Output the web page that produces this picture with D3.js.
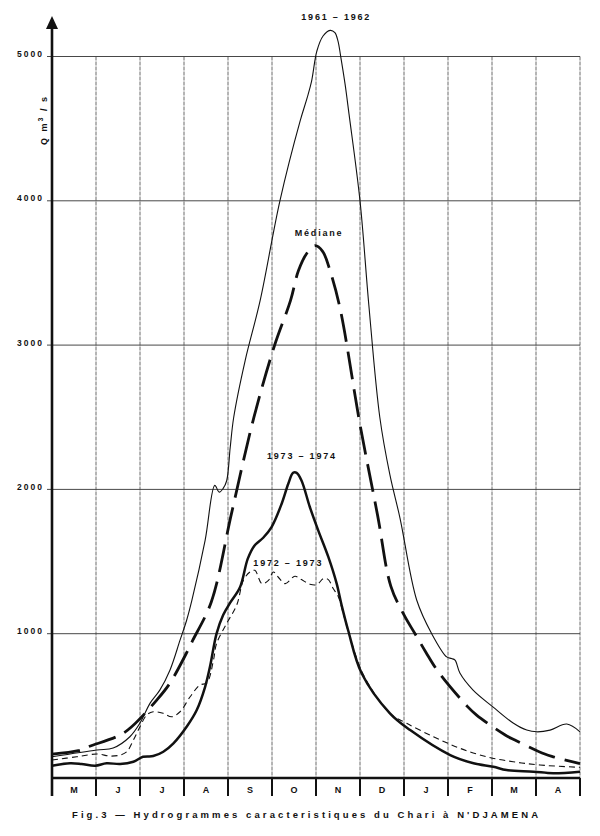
<!DOCTYPE html>
<html><head><meta charset="utf-8">
<script src="https://cdn.jsdelivr.net/npm/d3@7"></script>
<style>
html,body{margin:0;padding:0;background:#fff;}
svg{display:block;}
text{font-family:"Liberation Sans",Arial,Helvetica,sans-serif;fill:#111;}
</style></head>
<body>
<svg id="chart" width="600" height="836"></svg>
<script>
// ---- data (x in months from start of May, y in m3/s) ----
const months = ["M","J","J","A","S","O","N","D","J","F","M","A"];
const yTicks = [1000,2000,3000,4000,5000];

const y1961 = [[0,147],[1.02,194],[1.39,208],[1.77,286],[2.0,381],[2.23,519],[2.45,609],[2.68,747],[2.91,955],[3.06,1093],[3.18,1232],[3.48,1647],[3.70,2028],[3.80,1981],[3.89,2007],[3.97,2060],[4.05,2290],[4.13,2500],[4.39,2893],[4.73,3308],[5.18,4000],[5.64,4554],[5.80,4715],[5.90,4830],[6.02,5038],[6.16,5142],[6.32,5181],[6.43,5165],[6.50,5107],[6.56,5003],[6.66,4810],[6.75,4602],[7.0,4000],[7.2,3280],[7.45,2500],[7.68,2100],[7.91,1800],[8.29,1232],[8.63,1000],[8.97,839],[9.08,828],[9.16,817],[9.27,727],[9.57,609],[10.02,493],[10.48,381],[10.79,332],[11.02,320],[11.32,332],[11.70,374],[12,320]];

const mediane = [[0,166],[0.6,189],[0.83,217],[1.55,298],[1.81,355],[2.38,540],[2.68,657],[3.09,886],[3.2,955],[3.62,1220],[4.08,1834],[4.57,2477],[5.05,2990],[5.42,3308],[5.6,3515],[5.8,3640],[5.98,3689],[6.15,3650],[6.32,3515],[6.55,3250],[7.0,2450],[7.4,1820],[7.7,1330],[8.0,1130],[8.25,1000],[8.5,870],[8.77,740],[9.45,493],[9.65,436],[10.3,298],[10.52,263],[11.2,166],[11.39,147],[12,100]];

const y1973 = [[0,85],[0.41,102],[0.67,97],[0.98,85],[1.24,102],[1.55,97],[1.85,113],[2.07,147],[2.3,152],[2.53,182],[2.76,240],[3.06,355],[3.29,471],[3.48,632],[3.59,770],[3.74,1001],[3.89,1130],[4.05,1215],[4.27,1320],[4.45,1520],[4.6,1610],[4.8,1665],[4.99,1739],[5.22,1901],[5.37,2039],[5.48,2115],[5.56,2115],[5.67,2062],[5.86,1878],[6.05,1716],[6.28,1532],[6.47,1347],[6.58,1200],[6.73,1024],[7.04,724],[7.68,448],[8.14,332],[9.05,159],[9.58,102],[10.03,78],[10.33,55],[10.94,44],[11.39,33],[12,44]];

const y1972 = [[0,125],[0.56,147],[1.02,166],[1.32,152],[1.55,159],[1.7,182],[1.85,263],[2.0,355],[2.15,436],[2.3,459],[2.53,448],[2.72,424],[2.91,459],[3.14,563],[3.36,644],[3.52,660],[3.67,817],[3.74,932],[3.97,1071],[4.2,1200],[4.35,1370],[4.5,1428],[4.61,1439],[4.77,1347],[4.92,1370],[5.03,1428],[5.14,1393],[5.3,1347],[5.52,1398],[5.67,1375],[5.86,1343],[6.02,1340],[6.17,1382],[6.28,1375],[6.39,1313],[6.51,1255],[6.62,1140],[6.77,978],[7.08,713],[7.68,448],[8.06,379],[8.67,286],[9.27,206],[9.88,147],[10.48,113],[11.09,90],[12,74]];

const labels = [
  {text:"1961 – 1962", m:6.46, v:5253},
  {text:"Médiane", m:6.07, v:3758},
  {text:"1973 – 1974", m:5.68, v:2211},
  {text:"1972 – 1973", m:5.37, v:1471}
];

// ---- layout ----
const svg = d3.select("#chart");
const x = d3.scaleLinear().domain([0,12]).range([52,580]);
const y = d3.scaleLinear().domain([0,5000]).range([778,56.5]);

// horizontal grid
svg.append("g").selectAll("line").data(yTicks).join("line")
  .attr("x1",47).attr("x2",580).attr("y1",d=>y(d)).attr("y2",d=>y(d))
  .attr("stroke","#333").attr("stroke-width",0.9);

// vertical grid (month boundaries)
svg.append("g").selectAll("line").data(d3.range(1,13)).join("line")
  .attr("x1",d=>x(d)).attr("x2",d=>x(d)).attr("y1",y(5000)).attr("y2",y(0))
  .attr("stroke","#444").attr("stroke-width",0.8).attr("stroke-dasharray","4,1");

// month band ticks below baseline
svg.append("g").selectAll("line").data(d3.range(0,13)).join("line")
  .attr("x1",d=>x(d)).attr("x2",d=>x(d)).attr("y1",y(0)).attr("y2",796)
  .attr("stroke","#111").attr("stroke-width",2);

// month labels
svg.append("g").selectAll("text").data(months).join("text")
  .attr("x",(d,i)=>x(i+0.5)).attr("y",793)
  .attr("text-anchor","middle").attr("font-size",9).attr("font-weight","bold")
  .text(d=>d);

// y tick labels
svg.append("g").selectAll("text").data(yTicks).join("text")
  .attr("x",44).attr("y",d=>y(d)+0.5)
  .attr("text-anchor","end").attr("font-size",8.5).attr("font-weight","bold")
  .attr("letter-spacing","2")
  .text(d=>d);

// axes
svg.append("line").attr("x1",x(0)).attr("x2",x(12)).attr("y1",y(0)).attr("y2",y(0))
  .attr("stroke","#111").attr("stroke-width",2.6);
svg.append("line").attr("x1",x(0)).attr("x2",x(0)).attr("y1",796).attr("y2",26)
  .attr("stroke","#111").attr("stroke-width",2.6);
svg.append("path").attr("d",`M${x(0)},16 L${x(0)-6},29 L${x(0)+6},29 Z`).attr("fill","#111");

// y axis title
const yt = svg.append("text").attr("transform","translate(47,120) rotate(-90)")
  .attr("text-anchor","middle").attr("font-size",9).attr("font-weight","bold").attr("letter-spacing","2");
yt.append("tspan").text("Q m");
yt.append("tspan").attr("font-size",7).attr("dy",-4).text("3");
yt.append("tspan").attr("dy",4).text(" / s");

// curves
const line = d3.line().x(d=>x(d[0])).y(d=>y(d[1])).curve(d3.curveCatmullRom.alpha(0.5));
const series = [
  {data:y1961, w:1.1, dash:null},
  {data:y1972, w:1.1, dash:"6,4"},
  {data:mediane, w:2.8, dash:"28,10"},
  {data:y1973, w:2.5, dash:null}
];
svg.append("g").selectAll("path").data(series).join("path")
  .attr("d",d=>line(d.data)).attr("fill","none").attr("stroke","#111")
  .attr("stroke-width",d=>d.w).attr("stroke-dasharray",d=>d.dash)
  .attr("stroke-linejoin","round");

// curve labels
svg.append("g").selectAll("text").data(labels).join("text")
  .attr("x",d=>x(d.m)).attr("y",d=>y(d.v))
  .attr("text-anchor","middle").attr("font-size",9).attr("font-weight","bold")
  .attr("letter-spacing","1.8")
  .text(d=>d.text);

// caption
svg.append("text").attr("x",72).attr("y",818).attr("font-size",9.5).attr("font-weight","bold")
  .attr("textLength",466).attr("lengthAdjust","spacing")
  .text("Fig.3 — Hydrogrammes  caracteristiques du Chari à N'DJAMENA");
</script>
</body></html>
